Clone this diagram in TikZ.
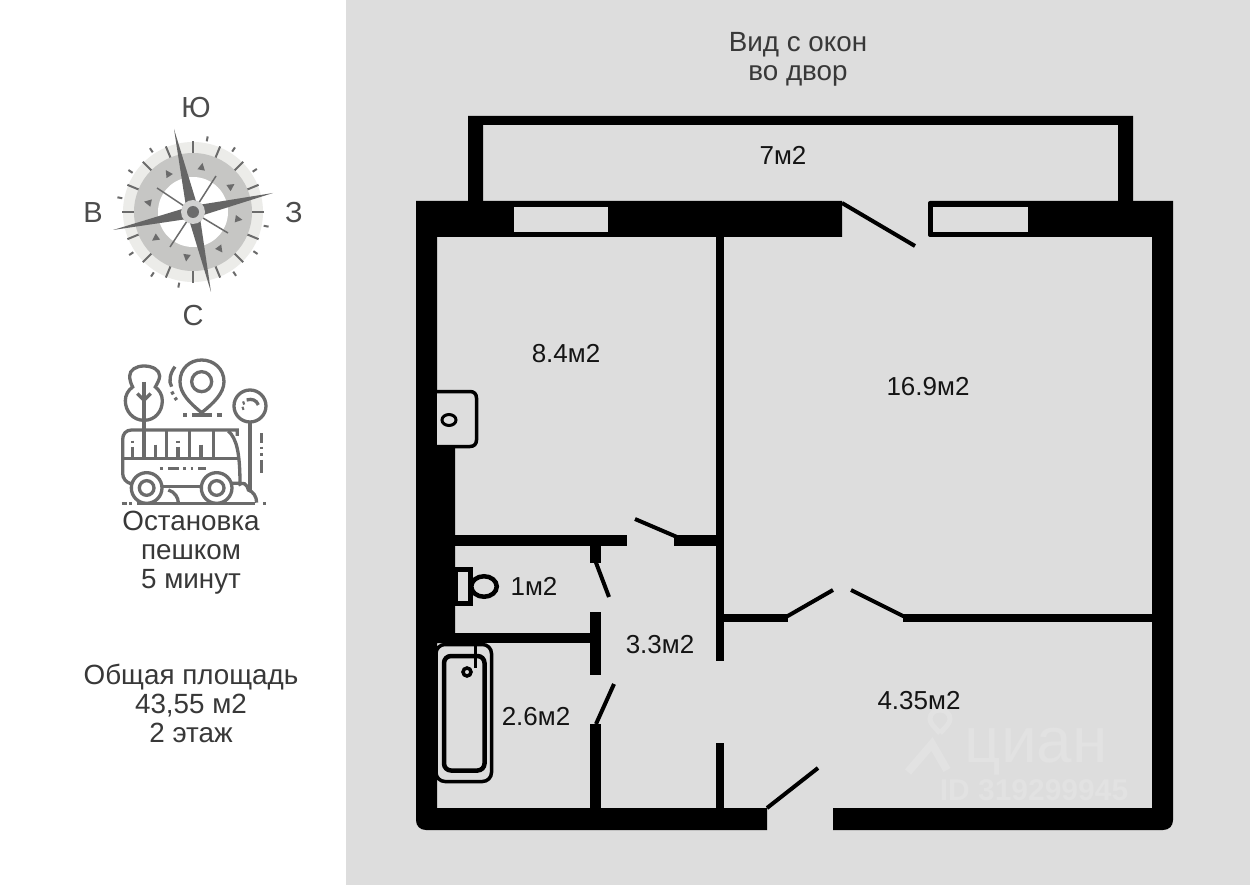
\documentclass[tikz,border=0pt]{standalone}
\usepackage{fontspec}
\setmainfont{Liberation Sans}
\usepackage{xcolor}
\usepackage{tikz}

\definecolor{bggray}{HTML}{DDDDDD}
\definecolor{icongray}{HTML}{6B6B6B}
\definecolor{ringlight}{HTML}{ECECE9}
\definecolor{ringmid}{HTML}{C6C6C4}
\definecolor{markgray}{HTML}{E2E2E2}

\begin{document}
\begin{tikzpicture}[x=1pt, y=-1pt, line join=miter]
	\tikzstyle{wall} = [fill=black, draw=none]
	\tikzstyle{glass} = [fill=bggray, draw=none]
	\tikzstyle{leaf} = [draw=black, line width=4pt]
	\tikzstyle{fixture} = [draw=black, fill=bggray, line width=3.5pt]
	\tikzstyle{area} = [font=\fontsize{26}{29}\selectfont, text=black!92, inner sep=0pt, align=center]
	\tikzstyle{side} = [font=\fontsize{27.8}{29}\selectfont, text=black!78, inner sep=0pt, align=center]
	\tikzstyle{point} = [font=\fontsize{29}{29}\selectfont, text=black!70, inner sep=0pt]
	\tikzstyle{icon} = [draw=icongray, line width=3.3pt]
	
	\useasboundingbox (0,0) rectangle (1250,885);
	\fill[white] (0,0) rectangle (1250,885);
	\fill[bggray] (346,0) rectangle (1250,885);
	
	% watermark
	\node[font=\fontsize{64}{64}\selectfont, text=markgray, inner sep=0pt] at (1036,752) (markname) {циан};
	\node[font=\bfseries\fontsize{30}{30}\selectfont, text=markgray, inner sep=0pt] at (1034,790) (markid) {ID 319299945};
	\draw[markgray, line width=8pt] (908,772) -- (932,744) -- (947,770);
	\draw[markgray, line width=5pt] (940,733) .. controls (934,727) and (930,723) .. (930,719) .. controls (930,707) and (950,707) .. (950,719) .. controls (950,723) and (946,727) .. (940,733);
	
	% outer walls
	\fill[wall] (468,201) -- (468,116) -- (1133,116) -- (1133,201) -- (1118,201) -- (1118,125) -- (483,125) -- (483,201) -- cycle;
	\fill[wall] (416,201) -- (842,201) -- (842,237) -- (437,237) -- (437,420) -- (455,420) -- (455,643) -- (437,643) -- (437,808) -- (767,808) -- (767,830) -- (426,830) .. controls (420,830) and (416,826) .. (416,820) -- cycle;
	\fill[wall] (1173,201) -- (1173,820) .. controls (1173,826) and (1169,830) .. (1163,830) -- (833,830) -- (833,808) -- (1152,808) -- (1152,237) -- (930,237) .. controls (929,237) and (928,236) .. (928,235) -- (928,203) .. controls (928,202) and (929,201) .. (930,201) -- cycle;
	\fill[glass] (514,207) rectangle (608,232);
	\fill[glass] (933,207) rectangle (1028,232);
	
	% inner walls
	\fill[wall] (716,237) rectangle (724,661);
	\fill[wall] (716,743) rectangle (724,808);
	\fill[wall] (455,535) rectangle (627,546);
	\fill[wall] (674,535) rectangle (716,546);
	\fill[wall] (590,546) rectangle (601,563);
	\fill[wall] (590,612) rectangle (601,675);
	\fill[wall] (455,633) rectangle (590,643);
	\fill[wall] (590,724) rectangle (601,808);
	\fill[wall] (724,614) rectangle (788,622);
	\fill[wall] (903,614) rectangle (1152,622);
	
	% door leaves
	\draw[leaf] (842,203) -- (915,246);
	\draw[leaf] (677,537) -- (635,519);
	\draw[leaf] (595,560) -- (609,597);
	\draw[leaf] (614,684) -- (596,724);
	\draw[leaf] (767,808) -- (818,768);
	\draw[leaf] (786,617) -- (833,590);
	\draw[leaf] (851,590) -- (905,617);
	
	% sink
	\fill[bggray] (437,391) rectangle (475,447);
	\draw[draw=black, line width=3.5pt] (437,391.5) -- (470,391.5) .. controls (474,391.5) and (476.5,394) .. (476.5,398) -- (476.5,440) .. controls (476.5,444) and (474,446.5) .. (470,446.5) -- (437,446.5);
	\draw[draw=black, line width=3pt] (449,420) ellipse (7 and 5.5);
	% toilet
	\draw[fixture, line width=4.5pt] (484,586.5) ellipse (12.75 and 10.25);
	\draw[fixture, line width=5pt] (455.5,569.5) rectangle (470.5,603);
	% bath
	\draw[fixture, rounded corners=9pt] (436,644.5) rectangle (491.5,781.5);
	\draw[fixture, line width=4.5pt, rounded corners=7pt] (444,656) rectangle (484.5,770.5);
	\draw[draw=black, line width=3pt] (475,645) -- (475,668);
	\draw[draw=black, line width=3.5pt] (467,672) circle (4);
	
	% room areas
	\node[area] at (783,155) (balcony) {7м2};
	\node[area] at (566,354) (bedroom) {8.4м2};
	\node[area] at (928,387) (living) {16.9м2};
	\node[area] at (534,586) (toilet) {1м2};
	\node[area] at (660,645) (passage) {3.3м2};
	\node[area] at (536,717) (bathroom) {2.6м2};
	\node[area] at (919,701) (kitchen) {4.35м2};
	\node[side] at (798,59) (view) {Вид с окон\\во двор};
	\node[side] at (191,553) (stop) {Остановка\\пешком\\5 минут};
	\node[side] at (191,703) (total) {Общая площадь\\43,55 м2\\2 этаж};
	
	% compass
	\node[point] at (196,108) (south) {Ю};
	\node[point] at (93,213) (east) {В};
	\node[point] at (294,213) (west) {З};
	\node[point] at (193,316) (north) {С};
	\begin{scope}[shift={(193,212)}]
		\fill[ringlight] (0,0) circle (70);
		\fill[ringmid] (0,0) circle (59);
		\fill[white] (0,0) circle (35);
		\foreach \a in {0,22.5,...,337.5}
			\draw[icongray, line width=2pt] (\a:59) -- (\a:71);
		\foreach \a in {-79,-57,-34,11,33,56,101,123,146,191,213,236}
			\draw[icongray, line width=2pt] (\a:72) -- (\a:77);
		\foreach \a in {-79,-34,9,54,98,145,192,237}
			\fill[icongray] (\a-5:43) -- (\a+5:43) -- (\a:50) -- cycle;
		\draw[icongray, line width=1.5pt] (0,0) -- (-36,-24);
		\draw[icongray, line width=1.5pt] (0,0) -- (23,-36);
		\draw[icongray, line width=1.5pt] (0,0) -- (35,21);
		\draw[icongray, line width=1.5pt] (0,0) -- (-23,35);
		\fill[icongray!95!black] (-19,-83) -- (6,-1) -- (18,80) -- (-6,1) -- cycle;
		\fill[icongray!95!black] (80,-19) -- (1,6) -- (-80,18) -- (-1,-6) -- cycle;
		\fill[ringmid!80!white] (0,0) circle (12);
		\fill[icongray] (0,0) circle (6);
	\end{scope}
	
	% bus stop icon
	\begin{scope}[shift={(100,350)}, x=0.3333pt, y=-0.3333pt]
		\draw[icon] (132,96) -- (132,240);
		\draw[icon] (112,131) -- (132,151) -- (152,131);
		\draw[icon] (132,211) .. controls (100,211) and (76,185) .. (76,152) .. controls (76,135) and (85,120) .. (98,111) .. controls (92,100) and (89,88) .. (89,78) .. controls (89,60) and (108,48) .. (132,48) .. controls (158,48) and (179,60) .. (179,78) .. controls (179,88) and (172,100) .. (166,111) .. controls (178,120) and (187,135) .. (187,152) .. controls (187,185) and (165,211) .. (132,211);
		\draw[icon] (225,50) .. controls (210,70) and (205,95) .. (215,110);
		\draw[icon] (215,125) -- (220,133);
		\draw[icon] (225,143) -- (230,150);
		\draw[icon] (305,188) .. controls (270,160) and (240,130) .. (240,95) .. controls (240,55) and (270,30) .. (305,30) .. controls (340,30) and (372,55) .. (372,95) .. controls (372,130) and (340,160) .. (305,188);
		\draw[icon] (305,95) circle (30);
		\draw[icon] (250,195) -- (262,195);
		\draw[icon] (277,195) -- (335,195);
		\draw[icon] (350,195) -- (366,195);
		\draw[icon] (450,168) circle (48);
		\draw[icon] (450,216) -- (450,425);
		\draw[icon] (440,150) .. controls (455,145) and (470,150) .. (475,165);
		\draw[icon] (428,160) -- (434,158);
		\draw[icon] (426,176) -- (432,174);
		\draw[icon] (485,250) -- (485,280);
		\draw[icon] (485,290) -- (485,298);
		\draw[icon] (485,310) -- (485,318);
		\draw[icon] (485,330) -- (485,368);
		\draw[icon] (412,258) -- (412,240) -- (95,240) .. controls (78,240) and (68,252) .. (68,268) -- (68,370) .. controls (68,385) and (78,398) .. (95,402);
		\draw[icon] (385,243) .. controls (410,265) and (420,310) .. (420,400) -- (395,400);
		\draw[icon] (68,326) -- (420,326);
		\foreach \x in {199,268,340}
			\draw[icon] (\x,240) -- (\x,326);
		\foreach \x in {167,303}
			\draw[icon] (\x,284) -- (\x,326);
		\foreach \x in {97,234} {
			\draw[icon] (\x,291) -- (\x,326);
			\draw[icon] (\x,272) -- (\x,280);
		}
		\draw[icon] (180,355) -- (188,355);
		\draw[icon] (205,355) -- (238,355);
		\draw[icon] (250,355) -- (258,355);
		\draw[icon] (272,355) -- (280,355);
		\draw[icon] (295,355) -- (318,355);
		\draw[icon] (132,240) -- (132,326);
		\foreach \x in {140,350} {
			\draw[icon, fill=white] (\x,414) circle (46);
			\draw[icon] (\x,414) circle (22);
		}
		\draw[icon] (186,410) -- (304,410);
		\draw[icon] (110,460) -- (465,460);
		\draw[icon] (65,460) -- (80,460);
		\draw[icon] (88,460) -- (96,460);
		\draw[icon] (490,460) -- (497,460);
		\draw[icon] (205,420) .. controls (225,425) and (235,445) .. (235,458);
		\draw[icon] (415,405) .. controls (430,395) and (440,400) .. (445,420) .. controls (460,425) and (470,440) .. (470,458);
	\end{scope}
\end{tikzpicture}
\end{document}
